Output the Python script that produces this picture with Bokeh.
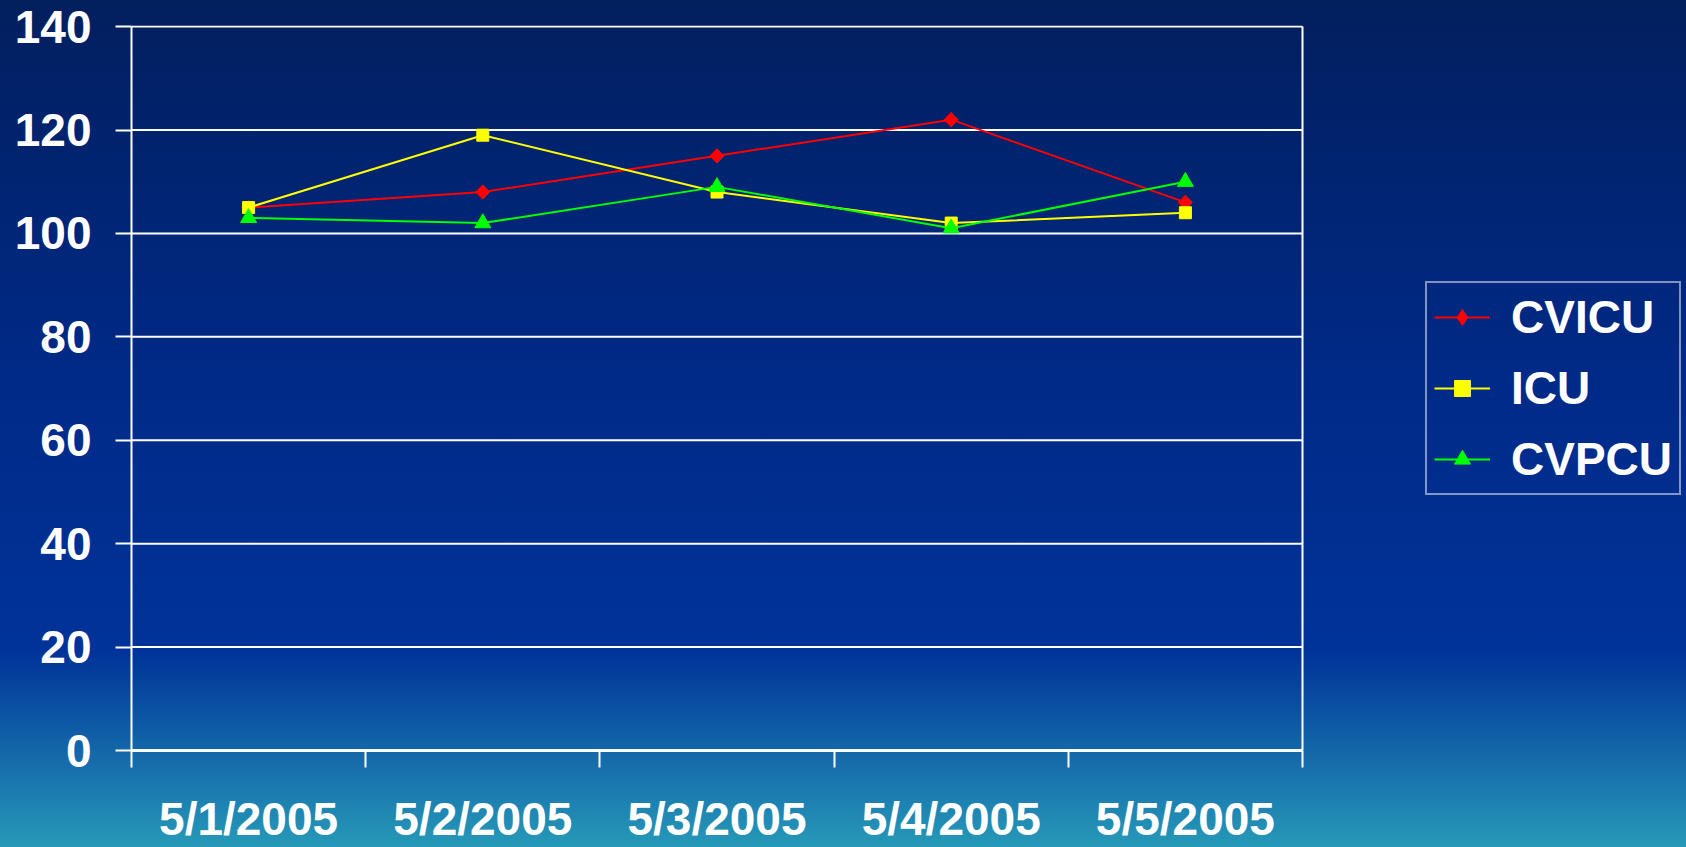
from bokeh.plotting import figure
from bokeh.models import Range1d, FixedTicker, Legend, LegendItem
from bokeh.embed import file_html
from bokeh.resources import INLINE
import math

dates = ["5/1/2005", "5/2/2005", "5/3/2005", "5/4/2005", "5/5/2005"]
cvicu = [105, 108, 115, 122, 106]
icu = [105, 119, 108, 102, 104]
cvpcu = [103, 102, 109, 101, 110]
y_ticks = [0, 20, 40, 60, 80, 100, 120, 140]

n = len(dates)
xs = [i + 0.5 for i in range(n)]
FONT = "Liberation Sans"

W, H = 1686, 847
LEFT, PLOT_RIGHT, TOP, BOTTOM = 131, 1302, 25, 97
# frame spans to the right edge so the legend (drawn in the frame) is not clipped;
# the plotting area itself ends at x = n
x_end = n * (W - LEFT) / (PLOT_RIGHT - LEFT)

p = figure(width=W, height=H, output_backend="svg", toolbar_location=None,
           x_range=Range1d(0, x_end), y_range=Range1d(0, y_ticks[-1] * 1.0015),
           min_border_left=LEFT, min_border_right=0, min_border_top=TOP, min_border_bottom=BOTTOM)
p.background_fill_color = None
p.border_fill_color = None
p.outline_line_color = None
p.styles = {"background": "linear-gradient(to bottom, #021F5E 0%, #002A88 45%, #003399 77%, #2699B8 100%)"}

# axes
xa = p.xaxis[0]
xa.bounds = (0, n)
xa.ticker = FixedTicker(ticks=xs, minor_ticks=list(range(n + 1)))
xa.major_label_overrides = {x: d for x, d in zip(xs, dates)}
xa.major_tick_line_color = None
xa.major_tick_out = 0
xa.major_tick_in = 0
xa.minor_tick_line_color = "white"
xa.minor_tick_line_width = 2
xa.minor_tick_out = 17
xa.minor_tick_in = 0
xa.axis_line_color = "white"
xa.axis_line_width = 3
xa.major_label_text_color = "white"
xa.major_label_text_font = FONT
xa.major_label_text_font_style = "bold"
xa.major_label_text_font_size = "46px"
xa.major_label_standoff = 25

ya = p.yaxis[0]
ya.bounds = (0, y_ticks[-1])
ya.ticker = FixedTicker(ticks=y_ticks)
ya.major_tick_line_color = "white"
ya.major_tick_line_width = 2
ya.major_tick_out = 16
ya.major_tick_in = 0
ya.minor_tick_line_color = None
ya.axis_line_color = "white"
ya.axis_line_width = 2
ya.major_label_text_color = "white"
ya.major_label_text_font = FONT
ya.major_label_text_font_style = "bold"
ya.major_label_text_font_size = "46px"
ya.major_label_standoff = 24

p.xgrid.grid_line_color = None
p.ygrid.grid_line_color = None

# plot-area grid lines and right border, limited to the category span
p.segment(x0=[0] * len(y_ticks), x1=[n] * len(y_ticks), y0=y_ticks, y1=y_ticks,
          line_color="white", line_width=2)
p.segment(x0=[n], x1=[n], y0=[0], y1=[y_ticks[-1]], line_color="white", line_width=2)

# series
l1 = p.line(xs, cvicu, line_color="#FF0000", line_width=2)
d1 = p.scatter(xs, cvicu, marker="diamond", size=14, fill_color="#FF0000", line_color="#FF0000")
m1 = p.scatter(xs, cvicu, marker="square", angle=math.pi / 4, size=10, fill_color="#FF0000", line_color="#FF0000")
l2 = p.line(xs, icu, line_color="#FFFF00", line_width=2)
m2 = p.scatter(xs, icu, marker="square", size=12, fill_color="#FFFF00", line_color="#FFFF00")
l3 = p.line(xs, cvpcu, line_color="#00FF00", line_width=2)
m3 = p.scatter(xs, cvpcu, marker="triangle", size=16, fill_color="#00FF00", line_color="#00FF00")

legend = Legend(items=[LegendItem(label="CVICU", renderers=[l1, d1]),
                       LegendItem(label="ICU", renderers=[l2, m2]),
                       LegendItem(label="CVPCU", renderers=[l3, m3])],
                location=(1425 - LEFT, (H - BOTTOM) - 495))
legend.background_fill_color = None
legend.background_fill_alpha = 0
legend.border_line_color = "white"
legend.border_line_width = 2
legend.label_text_color = "white"
legend.label_text_font = FONT
legend.label_text_font_style = "bold"
legend.label_text_font_size = "46px"
legend.glyph_width = 56
legend.glyph_height = 40
legend.label_height = 50
legend.spacing = 17
legend.padding = 7
legend.margin = 0
legend.label_standoff = 21
p.add_layout(legend, "center")

open("out.html", "w").write(file_html(p, INLINE))
